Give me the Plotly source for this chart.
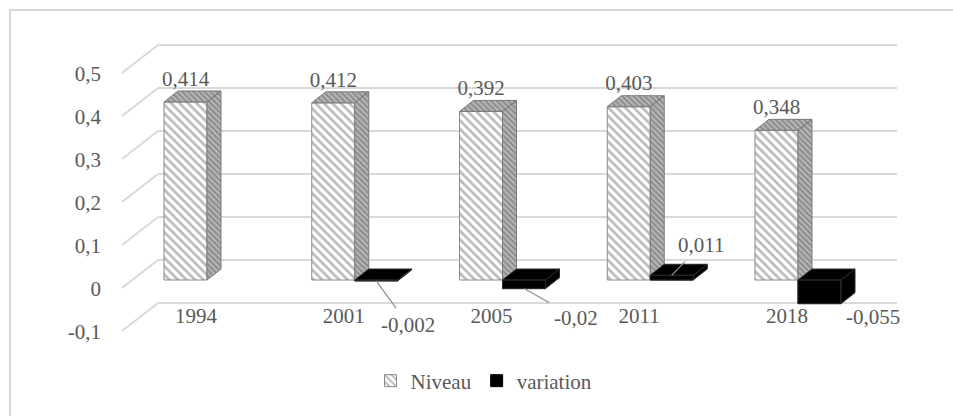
import plotly.graph_objects as go

# ---------------- data ----------------
categories = ["1994", "2001", "2005", "2011", "2018"]
niveau = [0.414, 0.412, 0.392, 0.403, 0.348]
variation = [None, -0.002, -0.02, 0.011, -0.055]
y_tick_values = [-0.1, 0, 0.1, 0.2, 0.3, 0.4, 0.5]
y_tick_labels = ["-0,1", "0", "0,1", "0,2", "0,3", "0,4", "0,5"]

# ---------------- styling / geometry ----------------
W, H = 953, 416
PX_X = 147.75          # pixels per category
X0 = 207               # pixel of x = 0
PX_Y = 430             # pixels per y unit
Y0 = 280               # pixel of y = 0 (front plane)
BAR_W = 43 / PX_X
DX = 14 / PX_X         # depth offset in x units
DY = 11 / PX_Y         # depth offset in y units
WALL_DY = 20 / PX_Y
LABEL_DY = 9 / PX_Y
FONT = "Liberation Serif"
TXT = "#595959"
GRID = "#d9d9d9"
FS = 21

xr = [-X0 / PX_X, (W - X0) / PX_X]
yr = [-(H - Y0) / PX_Y, Y0 / PX_Y]

xs = list(range(len(categories)))
x_niv = [i - BAR_W / 2 for i in xs]
x_var = [i + BAR_W / 2 for i in xs]


def fmt(v):
    return f"{v:g}".replace(".", ",")


def faces(xc, v):
    """side + top polygons of a 3D box (separated by None)."""
    l, r = xc - BAR_W / 2, xc + BAR_W / 2
    lo, hi = min(0, v), max(0, v)
    px, py = [], []
    px += [r, r, r + DX, r + DX, r, None]
    py += [lo, hi, hi + DY, lo + DY, lo, None]
    px += [l, r, r + DX, l + DX, l, None]
    py += [hi, hi, hi + DY, hi + DY, hi, None]
    return px, py


def front(xc, v):
    l, r = xc - BAR_W / 2, xc + BAR_W / 2
    lo, hi = min(0, v), max(0, v)
    return [l, r, r, l, l, None], [lo, lo, hi, hi, lo, None]


fig = go.Figure()

hatch = dict(shape="\\", fgcolor="#767676", bgcolor="white", size=6, solidity=0.45)

fig.add_trace(go.Bar(
    x=x_niv, y=niveau, width=BAR_W, name="Niveau",
    marker=dict(color="white", line=dict(color="#8a8a8a", width=1), pattern=hatch),
    hoverinfo="skip",
))
fig.add_trace(go.Bar(
    x=x_var, y=variation, width=BAR_W, name="variation",
    marker=dict(color="black", line=dict(color="black", width=1)),
    hoverinfo="skip",
))

nx, ny = [], []
for xc, v in zip(x_niv, niveau):
    a, b = faces(xc, v)
    nx += a
    ny += b
fig.add_trace(go.Scatter(
    x=nx, y=ny, mode="lines", fill="toself",
    line=dict(color="#7a7a7a", width=1),
    fillcolor="#9a9a9a",
    fillpattern=dict(shape="\\", fgcolor="#5e5e5e", bgcolor="#b8b8b8", size=4, solidity=0.5),
    showlegend=False, hoverinfo="skip",
))

vx, vy = [], []
for xc, v in zip(x_var, variation):
    if v is None:
        continue
    a, b = front(xc, v)
    vx += a
    vy += b
    a, b = faces(xc, v)
    vx += a
    vy += b
fig.add_trace(go.Scatter(
    x=vx, y=vy, mode="lines", fill="toself",
    line=dict(color="#2a2a2a", width=1), fillcolor="black",
    showlegend=False, hoverinfo="skip",
))

fig.add_trace(go.Scatter(
    x=x_niv, y=[v + DY for v in niveau], mode="text",
    text=[fmt(v) for v in niveau], textposition="top center",
    textfont=dict(family=FONT, size=FS, color=TXT),
    showlegend=False, hoverinfo="skip",
))

fig.add_trace(go.Scatter(x=[0], y=[0], yaxis="y3", mode="markers",
                         marker=dict(opacity=0), showlegend=False, hoverinfo="skip"))

var_label_offsets = [None, (32, 44), (52, 29), (29, -30), (53, 13)]
var_leader = [None, True, True, True, False]
for xc, v, off, lead in zip(x_var, variation, var_label_offsets, var_leader):
    if v is None:
        continue
    fig.add_annotation(
        x=xc, y=v, xref="x", yref="y", text=fmt(v),
        showarrow=True, ax=off[0], ay=off[1], arrowhead=0, arrowwidth=1.2,
        arrowcolor="#8c8c8c" if lead else "rgba(0,0,0,0)", standoff=0, startstandoff=4,
        font=dict(family=FONT, size=FS, color=TXT),
    )

shapes = []
for v in y_tick_values:
    shapes.append(dict(type="line", xref="paper", yref="y", layer="below",
                       x0=158 / W, x1=897 / W, y0=v + WALL_DY, y1=v + WALL_DY,
                       line=dict(color=GRID, width=2)))
    shapes.append(dict(type="line", xref="paper", yref="y", layer="below",
                       x0=122 / W, x1=158 / W, y0=v - 8 / PX_Y, y1=v + WALL_DY,
                       line=dict(color=GRID, width=2)))
shapes.append(dict(type="rect", xref="paper", yref="paper", layer="below",
                   x0=10 / W, x1=1.05, y0=-0.05, y1=1 - 10 / H,
                   line=dict(color=GRID, width=2), fillcolor="rgba(0,0,0,0)"))

fig.update_layout(
    width=W, height=H,
    margin=dict(l=0, r=0, t=0, b=0),
    paper_bgcolor="white", plot_bgcolor="rgba(0,0,0,0)",
    barmode="overlay",
    separators=", ",
    shapes=shapes,
    font=dict(family=FONT, size=FS, color=TXT),
    xaxis=dict(domain=[0, 1], range=xr, tickvals=[i - 0.075 for i in xs], ticktext=categories,
               showgrid=False, zeroline=False, showline=False, ticks="",
               anchor="free", position=1 - 301 / H, fixedrange=True,
               tickfont=dict(family=FONT, size=FS, color=TXT)),
    yaxis=dict(domain=[0, 1], range=yr, visible=False, showgrid=False, zeroline=False,
               fixedrange=True),
    yaxis3=dict(overlaying="y", anchor="free", position=101 / W, side="left",
                range=[yr[0] + LABEL_DY, yr[1] + LABEL_DY],
                tickvals=y_tick_values, ticktext=y_tick_labels,
                showgrid=False, zeroline=False, showline=False, ticks="",
                tickfont=dict(family=FONT, size=FS, color=TXT), fixedrange=True),
    legend=dict(orientation="h", x=484 / W, xanchor="center", y=1 - 381 / H, yanchor="middle",
                font=dict(family=FONT, size=FS, color=TXT), bgcolor="rgba(0,0,0,0)",
                itemwidth=30),
    showlegend=True,
)

fig.write_html("out.html")
